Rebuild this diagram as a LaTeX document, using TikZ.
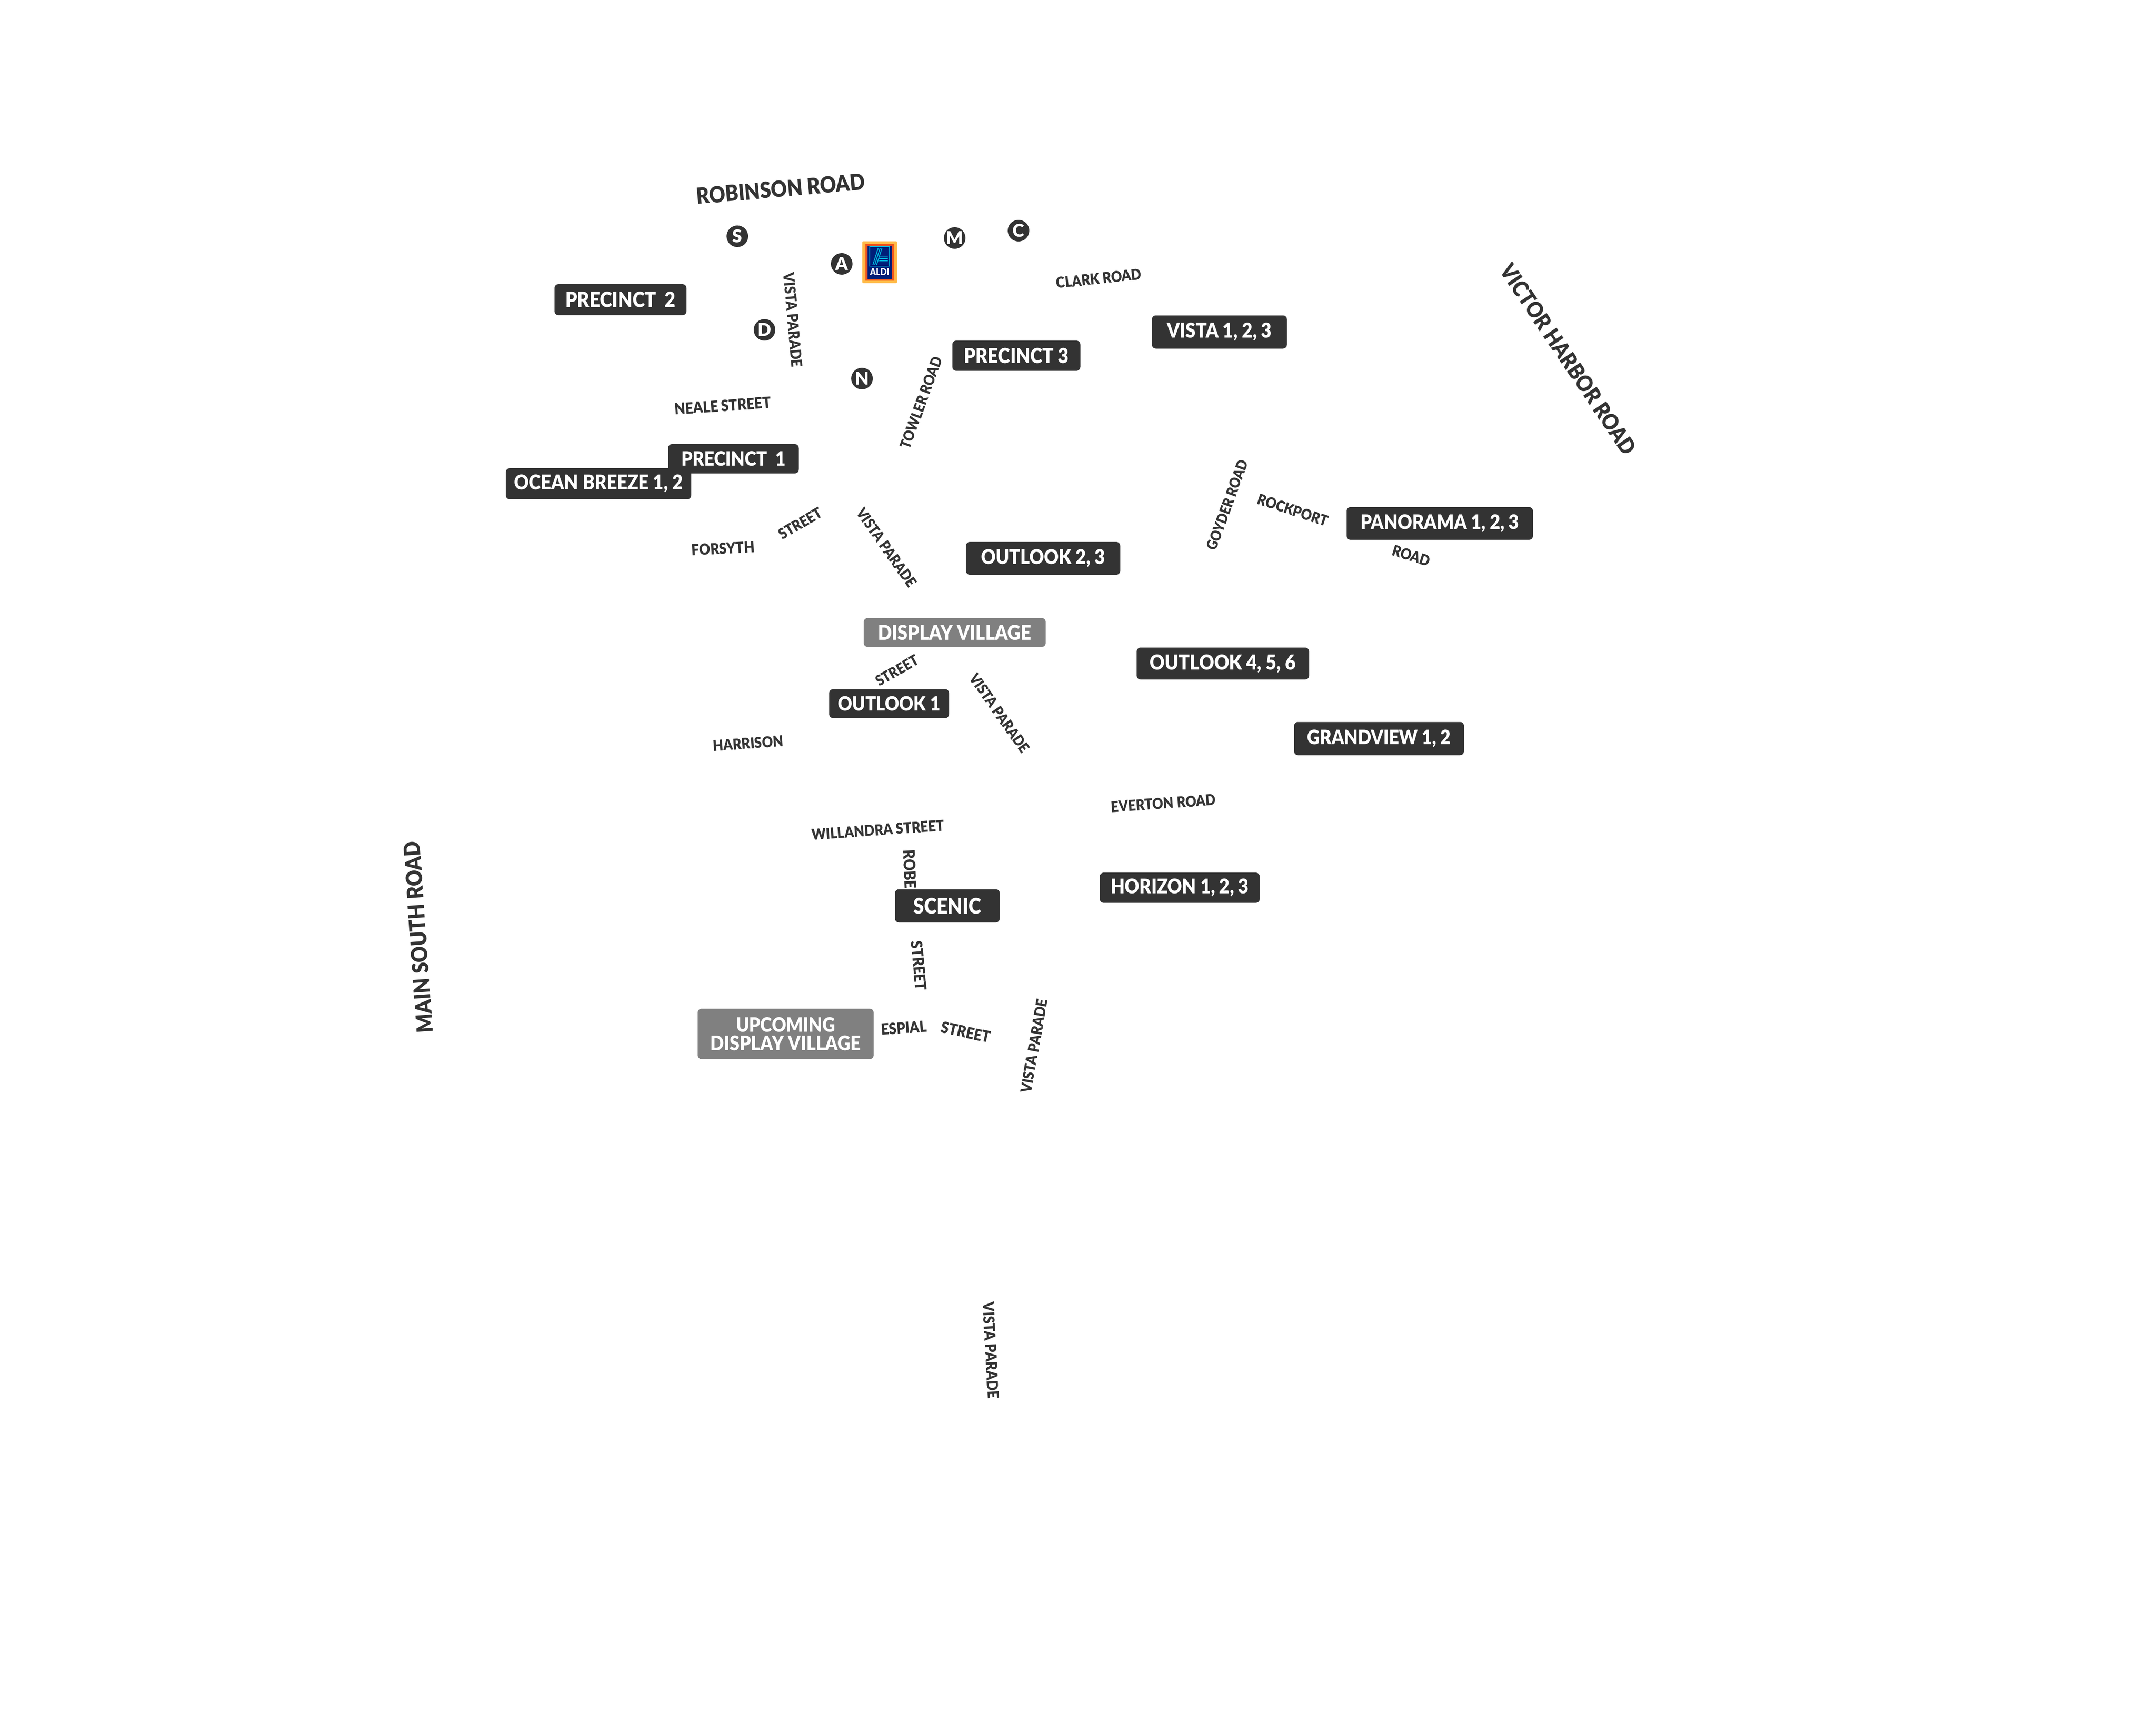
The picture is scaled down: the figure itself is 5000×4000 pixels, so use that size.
\documentclass[tikz,border=0pt]{standalone}
\usepackage{fontspec}
\usepackage{graphicx}
\setmainfont{Lato}[BoldFont={Lato Black}]
\definecolor{ink}{HTML}{333333}
\definecolor{mid}{HTML}{808080}
\definecolor{aldiY}{HTML}{FFB946}
\definecolor{aldiR}{HTML}{F0561E}
\definecolor{aldiN}{HTML}{001E78}
\definecolor{aldiC}{HTML}{00B4DC}
\newcommand{\fitw}[2]{\resizebox{#1pt}{!}{\scalebox{1}[1.12]{\fontsize{40}{44}\selectfont\bfseries #2}}}
\newcommand{\lbl}[8]{\node[#1,minimum width=#5pt,minimum height=#6pt] (#2) at (#3,#4) {\fitw{#7}{#8}};}
\newcommand{\rd}[6]{\node[roadlabel,rotate=#4] (#1) at (#2,#3) {\fitw{#5}{#6}};}
\tikzset{
  darkbox/.style={fill=ink,rounded corners=9pt,inner sep=0pt,text=white,align=center},
  greybox/.style={fill=mid,rounded corners=9pt,inner sep=0pt,text=white,align=center},
  roadlabel/.style={inner sep=0pt,text=ink},
  marker/.style={circle,fill=ink,minimum size=50pt,inner sep=0pt,text=white,font=\fontsize{41}{41}\selectfont\bfseries},
}
\begin{document}
\begin{tikzpicture}[x=1pt,y=-1pt]
\useasboundingbox (0,0) rectangle (5000,4000);
% road names
\rd{robinson}{1810}{438}{5}{392}{ROBINSON ROAD}
\rd{victor}{3637}{833}{-56}{520}{VICTOR HARBOR ROAD}
\rd{mainsouth}{970}{2174}{94}{445}{MAIN SOUTH ROAD}
\rd{clark}{2548}{646}{6}{198}{CLARK ROAD}
\rd{vistaA}{1839}{742}{-85}{220}{VISTA PARADE}
\rd{neale}{1676}{941}{4}{224}{NEALE STREET}
\rd{towler}{2136}{934}{70}{224}{TOWLER ROAD}
\rd{goyder}{2846}{1171}{70}{220}{GOYDER ROAD}
\rd{rockport}{2998}{1183}{-18}{170}{ROCKPORT}
\rd{roadB}{3273}{1289}{-17}{90}{ROAD}
\rd{forsyth}{1677}{1272}{3}{146}{FORSYTH}
\rd{streetA}{1856}{1214}{30}{110}{STREET}
\rd{vistaB}{2056}{1270}{-55}{215}{VISTA PARADE}
\rd{streetB}{2080}{1555}{30}{108}{STREET}
\rd{vistaC}{2318}{1654}{-55}{215}{VISTA PARADE}
\rd{harrison}{1735}{1724}{4}{163}{HARRISON}
\rd{willandra}{2036}{1925}{4}{307}{WILLANDRA STREET}
\rd{everton}{2698}{1863}{4}{243}{EVERTON ROAD}
\rd{robe}{2110}{2016}{-87}{90}{ROBE}
\rd{streetC}{2131}{2240}{-85}{115}{STREET}
\rd{espial}{2096}{2384}{4}{106}{ESPIAL}
\rd{streetD}{2240}{2394}{-12}{116}{STREET}
\rd{vistaD}{2398}{2426}{80}{220}{VISTA PARADE}
\rd{vistaE}{2298}{3132}{-87}{224}{VISTA PARADE}
% labels
\lbl{darkbox}{precinctB}{1439}{695}{306}{72}{256}{PRECINCT\ \ 2}
\lbl{darkbox}{vista}{2828}{770}{313}{77}{243}{VISTA 1, 2, 3}
\lbl{darkbox}{precinctC}{2357}{825}{297}{70}{243}{PRECINCT 3}
\lbl{darkbox}{precinctA}{1701}{1064}{303}{68}{242}{PRECINCT\ \ 1}
\lbl{darkbox}{ocean}{1388}{1122}{430}{72}{391}{OCEAN BREEZE 1, 2}
\lbl{darkbox}{panorama}{3339}{1214}{432}{76}{368}{PANORAMA 1, 2, 3}
\lbl{darkbox}{outlookB}{2419}{1295}{358}{76}{288}{OUTLOOK 2, 3}
\lbl{greybox}{display}{2214}{1467}{422}{67}{355}{DISPLAY VILLAGE}
\lbl{darkbox}{outlookC}{2836}{1539}{400}{74}{339}{OUTLOOK 4, 5, 6}
\lbl{darkbox}{outlookA}{2062}{1632}{278}{67}{237}{OUTLOOK 1}
\lbl{darkbox}{grandview}{3198}{1713}{394}{77}{333}{GRANDVIEW 1, 2}
\lbl{darkbox}{horizon}{2736}{2059}{371}{70}{320}{HORIZON 1, 2, 3}
\lbl{darkbox}{scenic}{2197}{2101}{243}{77}{157}{SCENIC}
\node[greybox,minimum width=408pt,minimum height=117pt,font=\fontsize{36}{43}\selectfont] (upcoming) at (1822,2398)
  {\fitw{230}{UPCOMING}\\\fitw{349}{DISPLAY VILLAGE}};
% markers
\node[marker] (mS) at (1710,548) {S};
\node[marker] (mA) at (1952,612) {A};
\node[marker] (mM) at (2214,552) {M};
\node[marker] (mC) at (2362,535) {C};
\node[marker] (mD) at (1773,765) {D};
\node[marker] (mN) at (1999,878) {N};
% ALDI logo
\begin{scope}[shift={(2040,608)}]
\fill[aldiY,rounded corners=3pt] (-40.5,-48.5) rectangle (40.5,48.5);
\fill[aldiR] (-33.5,-42.5) rectangle (33.5,42.5);
\fill[aldiN] (-28,-38.5) rectangle (28,38.5);
\draw[aldiC,line width=1.6pt] (-23,-36) rectangle (23,9.3);
\draw[aldiC,line width=2pt] (-3.3,-33) -- (-16,7);
\draw[aldiC,line width=2pt] (1.2,-33) -- (-11.7,7);
\draw[aldiC,line width=2pt] (5.6,-33) -- (-7.4,7);
\draw[aldiC,line width=2pt] (-1,-11.7) -- (19,-11.7);
\draw[aldiC,line width=2pt] (-1,-7.7) -- (19,-7.7);
\draw[aldiC,line width=2pt] (-1,-3.3) -- (19,-3.3);
\node[inner sep=0pt,text=white] (aldi) at (0,23) {\fitw{45}{ALDI}};
\end{scope}
\end{tikzpicture}
\end{document}
